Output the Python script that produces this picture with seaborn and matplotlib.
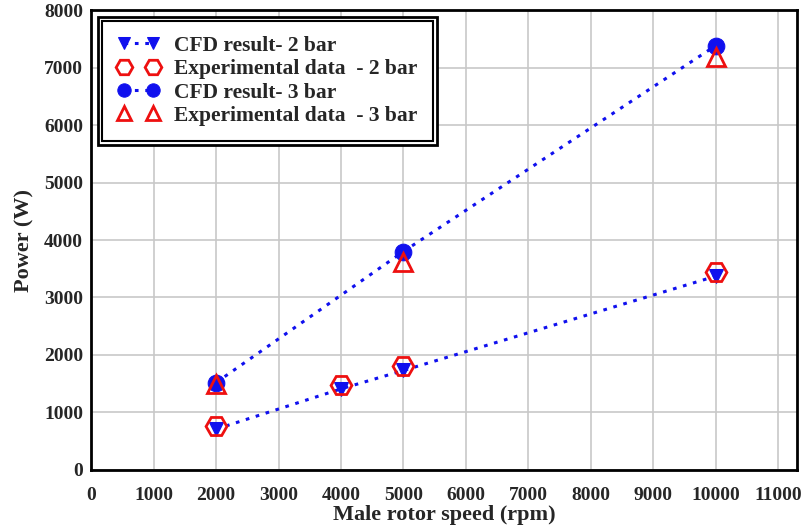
import matplotlib
matplotlib.use("Agg")
import matplotlib.pyplot as plt
import seaborn as sns
import pandas as pd
from matplotlib.patches import Rectangle

speed_2bar = [2000, 4000, 5000, 10000]
cfd_2bar = [710, 1410, 1730, 3370]
exp_2bar = [760, 1470, 1800, 3450]
speed_3bar = [2000, 5000, 10000]
cfd_3bar = [1520, 3800, 7380]
exp_3bar = [1500, 3620, 7190]

xticks = list(range(0, 11001, 1000))
yticks = list(range(0, 8001, 1000))

sns.set_theme(style="whitegrid")
plt.rcParams['font.family'] = ['Liberation Serif', 'DejaVu Serif']
plt.rcParams['font.weight'] = 'bold'

fig = plt.figure(figsize=(8.08, 5.31), dpi=100)
ax = fig.add_axes([0.113, 0.115, 0.873, 0.866])

d2 = pd.DataFrame({"x": speed_2bar, "cfd": cfd_2bar, "exp": exp_2bar})
d3 = pd.DataFrame({"x": speed_3bar, "cfd": cfd_3bar, "exp": exp_3bar})

sns.lineplot(data=d2, x="x", y="cfd", ax=ax, color="#1010ee", linestyle=(0, (1.2, 2.2)),
             linewidth=2.2, marker="v", markersize=10, markeredgecolor="#1010ee",
             markerfacecolor="#1010ee", label="CFD result- 2 bar", zorder=3)
sns.lineplot(data=d2, x="x", y="exp", ax=ax, linestyle="none", marker="H", markersize=15,
             markerfacecolor="none", markeredgecolor="#ee1010", markeredgewidth=2,
             color="#ee1010", label="Experimental data  - 2 bar", zorder=4)
sns.lineplot(data=d3, x="x", y="cfd", ax=ax, color="#1010ee", linestyle=(0, (1.2, 2.2)),
             linewidth=2.2, marker="o", markersize=12, markeredgecolor="#1010ee",
             markerfacecolor="#1010ee", label="CFD result- 3 bar", zorder=3)
sns.lineplot(data=d3, x="x", y="exp", ax=ax, linestyle="none", marker="^", markersize=13,
             markerfacecolor="none", markeredgecolor="#ee1010", markeredgewidth=2,
             color="#ee1010", label="Experimental data  - 3 bar", zorder=4)

ax.set_xlim(0, 11300)
ax.set_ylim(0, 8000)
ax.set_xticks(xticks)
ax.set_yticks(yticks)
ax.tick_params(axis='both', labelsize=14, length=0)
ax.tick_params(axis='x', pad=12)
ax.tick_params(axis='y', pad=6)
for lab in ax.get_xticklabels() + ax.get_yticklabels():
    lab.set_fontweight('bold')
ax.set_xlabel("Male rotor speed (rpm)", fontsize=16, fontweight='bold', labelpad=1)
ax.set_ylabel("Power (W)", fontsize=16, fontweight='bold', labelpad=7)
ax.grid(True, color="#c8c8c8", linewidth=1.2)
for s in ax.spines.values():
    s.set_color("black")
    s.set_linewidth(2)
    s.set_visible(True)

leg = ax.legend(loc="upper left", bbox_to_anchor=(0.0, 1.0), numpoints=2,
                prop={'family': 'Liberation Serif', 'weight': 'bold', 'size': 15.5},
                frameon=True, fancybox=False, edgecolor="black", framealpha=1,
                borderpad=0.9, labelspacing=0.15, handlelength=1.95, handletextpad=0.7,
                borderaxespad=0.3, markerscale=0.8)
leg.get_frame().set_linewidth(2)

fig.canvas.draw()
bb = leg.get_window_extent().transformed(fig.transFigure.inverted())
inset = 4 / 808, 4 / 531
rect = Rectangle((bb.x0 + inset[0], bb.y0 + inset[1]), bb.width - 2 * inset[0],
                 bb.height - 2 * inset[1], transform=fig.transFigure, fill=False,
                 edgecolor="black", linewidth=1.5, zorder=10)
fig.patches.append(rect)

fig.savefig("out.png", dpi=100)
